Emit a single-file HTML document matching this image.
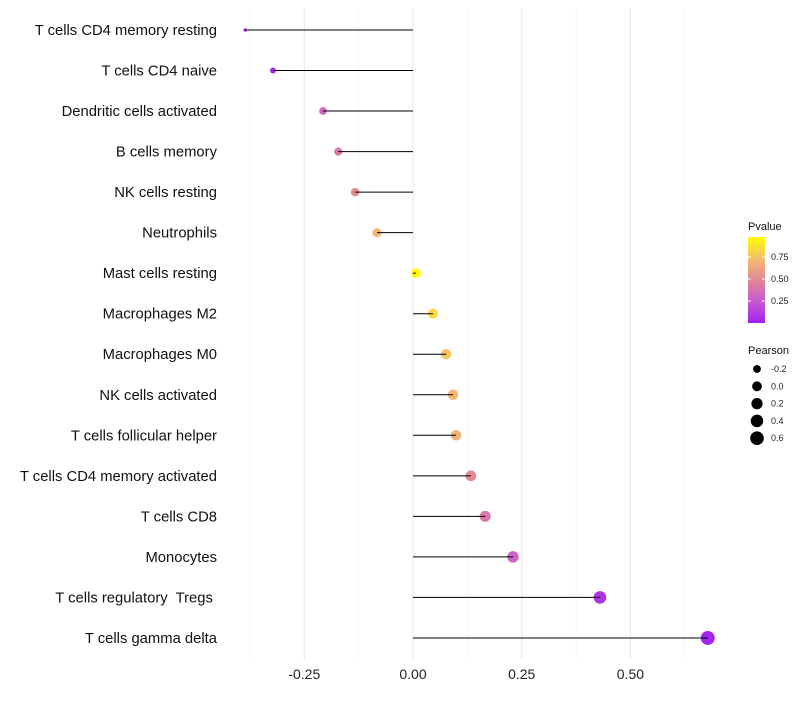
<!DOCTYPE html>
<html><head><meta charset="utf-8"><style>
body{margin:0;background:#fff;font-family:"Liberation Sans",sans-serif}
text{white-space:pre}
</style></head><body>
<svg id="c" width="800" height="700" xmlns="http://www.w3.org/2000/svg"></svg>
<script>
const categories=["T cells CD4 memory resting","T cells CD4 naive","Dendritic cells activated","B cells memory","NK cells resting","Neutrophils","Mast cells resting","Macrophages M2","Macrophages M0","NK cells activated","T cells follicular helper","T cells CD4 memory activated","T cells CD8","Monocytes","T cells regulatory  Tregs ","T cells gamma delta"];
const pearson=[-0.386,-0.322,-0.207,-0.172,-0.133,-0.083,0.007,0.046,0.076,0.092,0.099,0.133,0.166,0.230,0.430,0.678];
const pvalues=[0.02,0.05,0.32,0.42,0.52,0.72,0.98,0.85,0.78,0.72,0.70,0.52,0.42,0.30,0.08,0.02];
const xTicks=[-0.25,0,0.25,0.5];
const xTickLabels=["-0.25","0.00","0.25","0.50"];
const xMinor=[-0.375,-0.125,0.125,0.375,0.625];
const pTicks=[0.25,0.5,0.75];
const sizeLegend=[-0.2,0,0.2,0.4,0.6];

const svg=document.getElementById('c');
const NS="http://www.w3.org/2000/svg";
function mk(t,a,p){const e=document.createElementNS(NS,t);for(const k in a)e.setAttribute(k,a[k]);(p||svg).appendChild(e);return e;}
const x=v=>413+v*434.8;
const y=i=>30+i*40.53;
const r=v=>1.7+5.3*Math.sqrt(Math.max(0,(v+0.386)/1.064));
function col(p){
  const stops=[[0,[160,32,240]],[0.25,[200,90,210]],[0.5,[225,135,150]],[0.75,[245,190,110]],[1,[255,255,0]]];
  p=Math.max(0,Math.min(1,p));
  for(let i=0;i<stops.length-1;i++){const a=stops[i],b=stops[i+1];if(p<=b[0]){const t=(p-a[0])/(b[0]-a[0]);return 'rgb('+a[1].map((c,j)=>Math.round(c+(b[1][j]-c)*t)).join(',')+')';}}
}
xMinor.forEach(v=>{const l=mk('line',{x1:x(v),x2:x(v),y1:8,y2:660,stroke:'#f2f2f2','stroke-width':0.6});

});
xTicks.forEach((v,i)=>{const l=mk('line',{x1:x(v),x2:x(v),y1:8,y2:660,stroke:'#ebebeb','stroke-width':1.1});


const t=mk('text',{x:x(v),y:679,'text-anchor':'middle','font-size':14,fill:'#222'});t.textContent=xTickLabels[i];

});
categories.forEach((c,i)=>{
  const t=mk('text',{x:217,y:y(i)+5,'text-anchor':'end','font-size':14.8,fill:'#111'});t.textContent=c;
  
  
  const d=mk('circle',{cx:x(pearson[i]),cy:y(i),r:r(pearson[i]),fill:col(pvalues[i])});
  
  
  const l=mk('line',{x1:x(0),x2:x(pearson[i]),y1:y(i),y2:y(i),stroke:'#000','stroke-width':1});
  
  
});
const defs=mk('defs',{});
const g=mk('linearGradient',{id:'pg',x1:0,y1:1,x2:0,y2:0},defs);
[0,0.25,0.5,0.75,1].forEach(s=>mk('stop',{offset:s,'stop-color':col(s)},g));
const lt=mk('text',{x:748,y:230,'font-size':11,fill:'#111'});lt.textContent='Pvalue';


const py=p=>323-p*88;
const bar=mk('rect',{x:748,y:py(0.977),width:17,height:86,fill:'url(#pg)'});


pTicks.forEach(p=>{mk('line',{x1:748,x2:751,y1:py(p),y2:py(p),stroke:'#fff'});mk('line',{x1:762,x2:765,y1:py(p),y2:py(p),stroke:'#fff'});
const t=mk('text',{x:771,y:py(p)+3,'font-size':9,fill:'#222'});t.textContent=p.toFixed(2);

});
const st=mk('text',{x:748,y:354,'font-size':11,fill:'#111'});st.textContent='Pearson';


sizeLegend.forEach((v,i)=>{const cy=369+i*17.3;
const c=mk('circle',{cx:757,cy:cy,r:r(v),fill:'#000'});


const t=mk('text',{x:771,y:cy+3,'font-size':9,fill:'#222'});t.textContent=v.toFixed(1);

});
</script>
</body></html>
